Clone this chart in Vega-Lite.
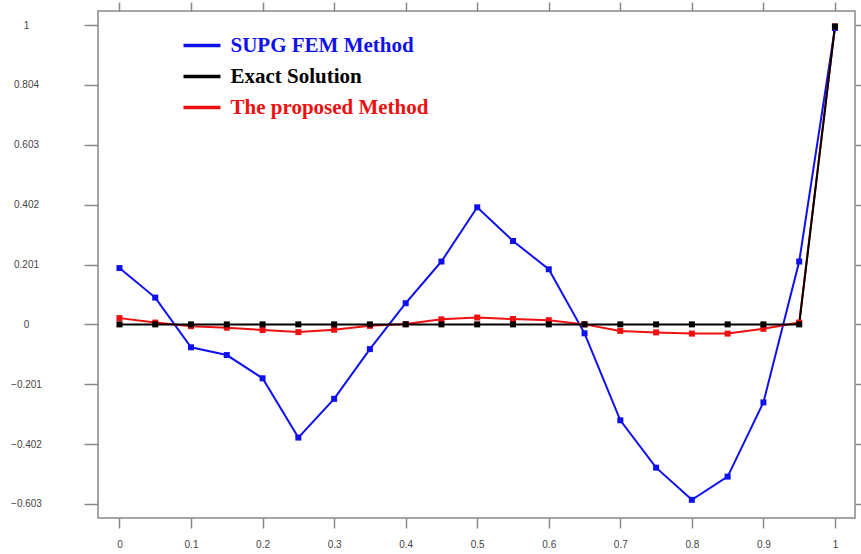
{
  "$schema": "https://vega.github.io/schema/vega-lite/v6.json",
  "autosize": {"type": "none"},
  "width": 757,
  "height": 507,
  "padding": {"left": 98, "top": 11, "right": 6, "bottom": 36},
  "background": "white",
  "config": {
    "view": {"stroke": "#888888", "strokeWidth": 1.5},
    "axis": {
      "labelFont": "Liberation Sans",
      "labelFontSize": 10,
      "labelColor": "#444444",
      "domainColor": "#888888",
      "tickColor": "#888888",
      "tickWidth": 1.5,
      "domainWidth": 1.5,
      "grid": false,
      "title": null
    }
  },
  "data": {
    "values": [
      {"series": "SUPG FEM Method", "x": 0, "y": 0.189},
      {"series": "SUPG FEM Method", "x": 0.05, "y": 0.090},
      {"series": "SUPG FEM Method", "x": 0.1, "y": -0.077},
      {"series": "SUPG FEM Method", "x": 0.15, "y": -0.103},
      {"series": "SUPG FEM Method", "x": 0.2, "y": -0.181},
      {"series": "SUPG FEM Method", "x": 0.25, "y": -0.380},
      {"series": "SUPG FEM Method", "x": 0.3, "y": -0.250},
      {"series": "SUPG FEM Method", "x": 0.35, "y": -0.083},
      {"series": "SUPG FEM Method", "x": 0.4, "y": 0.071},
      {"series": "SUPG FEM Method", "x": 0.45, "y": 0.211},
      {"series": "SUPG FEM Method", "x": 0.5, "y": 0.393},
      {"series": "SUPG FEM Method", "x": 0.55, "y": 0.280},
      {"series": "SUPG FEM Method", "x": 0.6, "y": 0.185},
      {"series": "SUPG FEM Method", "x": 0.65, "y": -0.030},
      {"series": "SUPG FEM Method", "x": 0.7, "y": -0.322},
      {"series": "SUPG FEM Method", "x": 0.75, "y": -0.481},
      {"series": "SUPG FEM Method", "x": 0.8, "y": -0.589},
      {"series": "SUPG FEM Method", "x": 0.85, "y": -0.511},
      {"series": "SUPG FEM Method", "x": 0.9, "y": -0.262},
      {"series": "SUPG FEM Method", "x": 0.95, "y": 0.211},
      {"series": "SUPG FEM Method", "x": 1, "y": 0.995},
      {"series": "The proposed Method", "x": 0, "y": 0.021},
      {"series": "The proposed Method", "x": 0.05, "y": 0.006},
      {"series": "The proposed Method", "x": 0.1, "y": -0.006},
      {"series": "The proposed Method", "x": 0.15, "y": -0.011},
      {"series": "The proposed Method", "x": 0.2, "y": -0.019},
      {"series": "The proposed Method", "x": 0.25, "y": -0.026},
      {"series": "The proposed Method", "x": 0.3, "y": -0.018},
      {"series": "The proposed Method", "x": 0.35, "y": -0.005},
      {"series": "The proposed Method", "x": 0.4, "y": 0.001},
      {"series": "The proposed Method", "x": 0.45, "y": 0.017},
      {"series": "The proposed Method", "x": 0.5, "y": 0.023},
      {"series": "The proposed Method", "x": 0.55, "y": 0.018},
      {"series": "The proposed Method", "x": 0.6, "y": 0.014},
      {"series": "The proposed Method", "x": 0.65, "y": 0.0},
      {"series": "The proposed Method", "x": 0.7, "y": -0.022},
      {"series": "The proposed Method", "x": 0.75, "y": -0.027},
      {"series": "The proposed Method", "x": 0.8, "y": -0.031},
      {"series": "The proposed Method", "x": 0.85, "y": -0.031},
      {"series": "The proposed Method", "x": 0.9, "y": -0.015},
      {"series": "The proposed Method", "x": 0.95, "y": 0.006},
      {"series": "The proposed Method", "x": 1, "y": 1.0},
      {"series": "Exact Solution", "x": 0, "y": 0},
      {"series": "Exact Solution", "x": 0.05, "y": 0},
      {"series": "Exact Solution", "x": 0.1, "y": 0},
      {"series": "Exact Solution", "x": 0.15, "y": 0},
      {"series": "Exact Solution", "x": 0.2, "y": 0},
      {"series": "Exact Solution", "x": 0.25, "y": 0},
      {"series": "Exact Solution", "x": 0.3, "y": 0},
      {"series": "Exact Solution", "x": 0.35, "y": 0},
      {"series": "Exact Solution", "x": 0.4, "y": 0},
      {"series": "Exact Solution", "x": 0.45, "y": 0},
      {"series": "Exact Solution", "x": 0.5, "y": 0},
      {"series": "Exact Solution", "x": 0.55, "y": 0},
      {"series": "Exact Solution", "x": 0.6, "y": 0},
      {"series": "Exact Solution", "x": 0.65, "y": 0},
      {"series": "Exact Solution", "x": 0.7, "y": 0},
      {"series": "Exact Solution", "x": 0.75, "y": 0},
      {"series": "Exact Solution", "x": 0.8, "y": 0},
      {"series": "Exact Solution", "x": 0.85, "y": 0},
      {"series": "Exact Solution", "x": 0.9, "y": 0},
      {"series": "Exact Solution", "x": 0.95, "y": 0},
      {"series": "Exact Solution", "x": 1, "y": 1.0}
    ]
  },
  "layer": [
    {
      "mark": {"type": "line", "strokeWidth": 2, "point": {"shape": "square", "size": 36, "filled": true, "opacity": 1}},
      "encoding": {
        "x": {
          "field": "x", "type": "quantitative",
          "scale": {"domain": [-0.03, 1.028], "nice": false, "zero": false},
          "axis": {"orient": "bottom", "values": [0, 0.1, 0.2, 0.3, 0.4, 0.5, 0.6, 0.7, 0.8, 0.9, 1], "labelExpr": "format(datum.value, '~g')", "tickSize": 10, "labelPadding": 11, "domain": false}
        },
        "y": {
          "field": "y", "type": "quantitative",
          "scale": {"domain": [-0.65, 1.052], "nice": false, "zero": false},
          "axis": {"orient": "left", "values": [-0.603, -0.402, -0.201, 0, 0.201, 0.402, 0.603, 0.804, 1.005], "labelExpr": "datum.value > 1 ? '1' : format(datum.value, '.3~f')", "tickSize": 14, "labelAlign": "center", "labelBaseline": "middle", "labelPadding": 58, "domain": false}
        },
        "color": {
          "field": "series", "type": "nominal",
          "sort": ["SUPG FEM Method", "Exact Solution", "The proposed Method"],
          "scale": {"domain": ["SUPG FEM Method", "Exact Solution", "The proposed Method"], "range": ["#1010ee", "#000000", "#ee1010"]},
          "legend": {
            "title": null,
            "orient": "none",
            "legendX": 83.5,
            "legendY": 14,
            "symbolType": "stroke",
            "symbolSize": 400,
            "symbolStrokeWidth": 3.5,
            "labelFont": "Liberation Serif",
            "labelFontWeight": "bold",
            "labelFontSize": 21,
            "labelOffset": 8,
            "rowPadding": 0,
            "labelLimit": 400,
            "encode": {
              "symbols": {"update": {"size": {"value": 1369}}},
              "labels": {
                "update": {
                  "fill": {"signal": "datum.value === 'SUPG FEM Method' ? '#1010ee' : datum.value === 'Exact Solution' ? '#000000' : '#ee1010'"}
                }
              }
            }
          }
        },
        "order": {"field": "x", "type": "quantitative"}
      }
    },
    {
      "mark": {"type": "point", "opacity": 0},
      "encoding": {
        "x": {
          "field": "x", "type": "quantitative",
          "axis": {"orient": "top", "values": [0, 0.1, 0.2, 0.3, 0.4, 0.5, 0.6, 0.7, 0.8, 0.9, 1], "labels": false, "tickSize": 9, "domain": false}
        },
        "y": {
          "field": "y", "type": "quantitative",
          "axis": {"orient": "right", "values": [-0.603, -0.402, -0.201, 0, 0.201, 0.402, 0.603, 0.804, 1.005], "labels": false, "tickSize": 6, "domain": false}
        }
      }
    }
  ],
  "resolve": {"axis": {"x": "independent", "y": "independent"}}
}
